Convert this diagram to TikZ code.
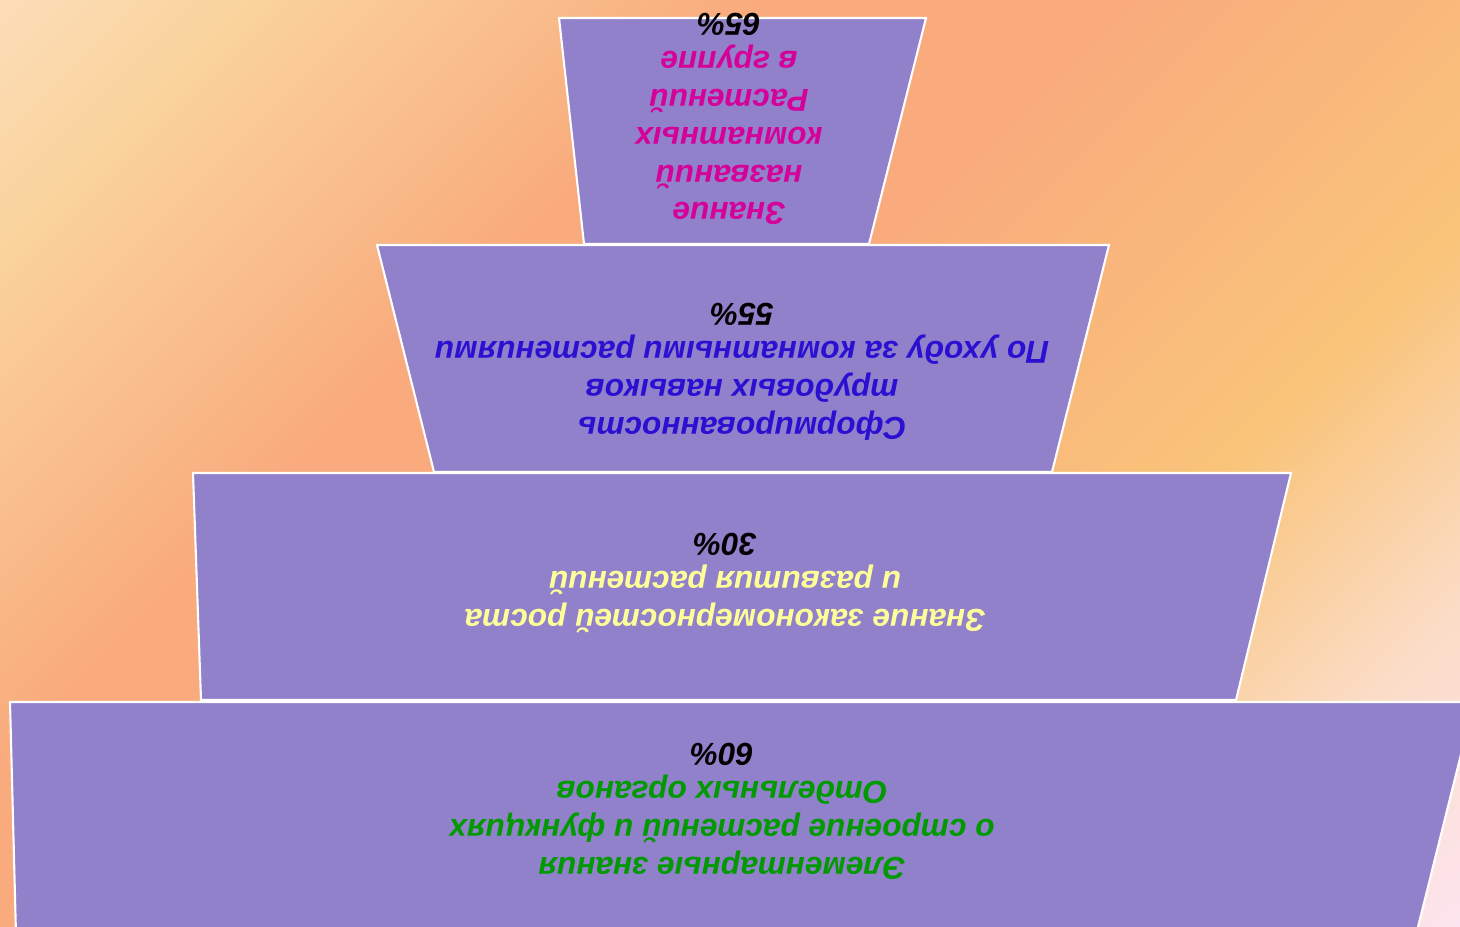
\documentclass[tikz,border=0pt]{standalone}
\usepackage{fontspec}
\setmainfont{Liberation Sans}
\usetikzlibrary{positioning}

\definecolor{bgcream}{HTML}{FCDDB8}
\definecolor{bgsand}{HTML}{FAD39C}
\definecolor{bgsalmon}{HTML}{F9AB7D}
\definecolor{bgamber}{HTML}{F9C47A}
\definecolor{bgpeach}{HTML}{FBDCC6}
\definecolor{bgpink}{HTML}{FDE5EF}
\definecolor{tierfill}{HTML}{9181CB}
\definecolor{txtmagenta}{HTML}{D5009A}
\definecolor{txtblue}{HTML}{2C10D2}
\definecolor{txtyellow}{HTML}{FFFF99}
\definecolor{txtgreen}{HTML}{009A00}

\pgfdeclarehorizontalshading{bgdiag}{100bp}{color(0bp)=(bgcream); color(14.6bp)=(bgcream);
  color(22bp)=(bgsand); color(37bp)=(bgsalmon); color(48bp)=(bgsalmon);
  color(65bp)=(bgamber); color(76bp)=(bgpeach); color(85.4bp)=(bgpink); color(100bp)=(bgpink)}

\begin{document}
\begin{tikzpicture}[
    x=0.1mm, y=-0.1mm,
    tier/.style={draw=white, line width=0.6pt, fill=tierfill},
    tiertext/.style={rotate=180, align=center,
      font=\fontsize{9}{10.8}\selectfont\bfseries\itshape},
  ]
  \useasboundingbox (0,0) rectangle (1460,927);
  \clip (0,0) rectangle (1460,927);

  % background
  \fill[shading=bgdiag, shading angle=-45] (0,0) rectangle (1460,927);

  % 1) top
  \draw[tier] (559,18) -- (926,18) -- (869,244) -- (584,244) -- cycle;
  \node[tiertext, text=txtmagenta] (t1) at (729,119)
    {Знание\\названий\\комнатных\\Растений\\в группе\\\textcolor{black}{65\%}};

  % 2)
  \draw[tier] (377,245) -- (1109,245) -- (1052,472) -- (434,472) -- cycle;
  \node[tiertext, text=txtblue] (t2) at (742,372)
    {Сформированность\\трудовых навыков\\По уходу за комнатными растениями\\\textcolor{black}{55\%}};

  % 3)
  \draw[tier] (193,473) -- (1291,473) -- (1236,700) -- (201,700) -- cycle;
  \node[tiertext, text=txtyellow] (t3) at (725,583)
    {Знание закономерностей роста\\и развития растений\\\textcolor{black}{30\%}};

  % 4) bottom
  \draw[tier] (10,702) -- (1474,702) -- (1416,935) -- (16,935) -- cycle;
  \node[tiertext, text=txtgreen] (t4) at (722,811)
    {Элементарные знания\\о строение растений и функциях\\Отдельных органов\\\textcolor{black}{60\%}};

\end{tikzpicture}
\end{document}
